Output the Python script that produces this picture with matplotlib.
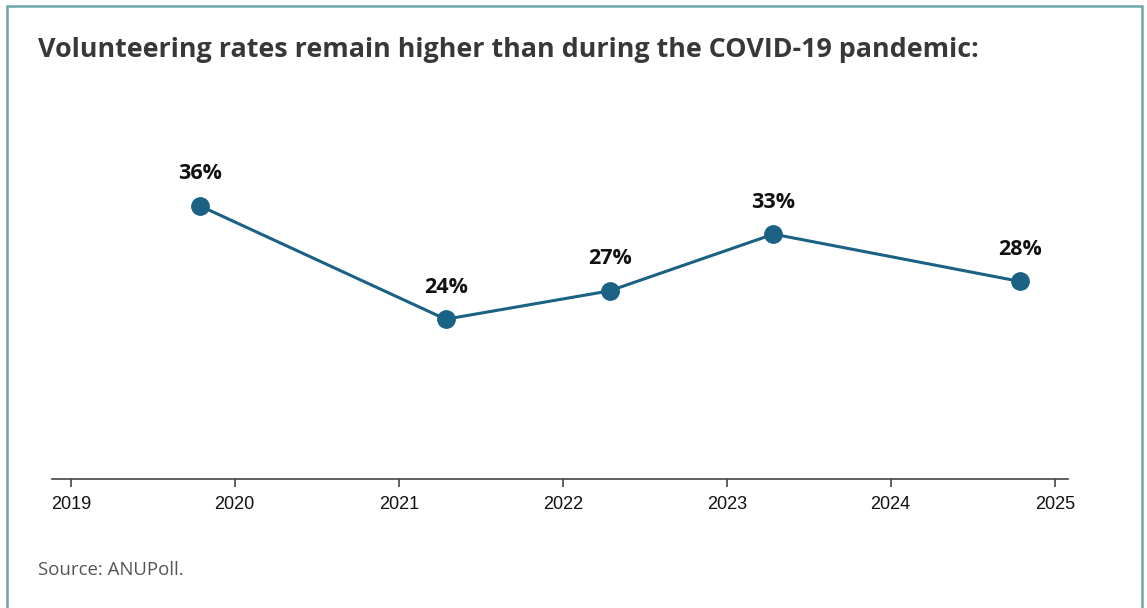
import matplotlib
matplotlib.use("Agg")
import matplotlib.pyplot as plt
import matplotlib.dates as mdates
from matplotlib.patches import Rectangle
from datetime import datetime

# survey waves and share of people who volunteered
waves = [datetime(2019, 10, 15), datetime(2021, 4, 15), datetime(2022, 4, 15),
         datetime(2023, 4, 15), datetime(2024, 10, 15)]
rates = [36, 24, 27, 33, 28]
years = [2019, 2020, 2021, 2022, 2023, 2024, 2025]

line_col = "#1b6183"

fig = plt.figure(figsize=(11.47, 6.08), dpi=100)
ax = fig.add_axes([52 / 1147, 1 - 479 / 608, (1068 - 52) / 1147, (479 - 150) / 608])

ax.plot(waves, rates, color=line_col, lw=2.2, marker="o", ms=12.5, zorder=3)
for d, v in zip(waves, rates):
    ax.annotate(f"{v}%", (d, v), xytext=(0, 23), textcoords="offset points",
                ha="center", va="center", fontsize=15.5, fontweight="bold",
                family="Open Sans", color="#111111")

ax.set_xlim(datetime(2018, 11, 20), datetime(2025, 1, 30))
ax.set_ylim(7.1, 41.9)
ax.set_xticks([datetime(y, 1, 1) for y in years])
ax.xaxis.set_major_formatter(mdates.DateFormatter("%Y"))
ax.tick_params(axis="x", length=6, width=1.2, color="#444444", pad=6,
               labelsize=13, labelcolor="#111111")
for lab in ax.get_xticklabels():
    lab.set_family("Liberation Sans")
ax.set_yticks([])
for s in ["top", "right", "left"]:
    ax.spines[s].set_visible(False)
ax.spines["bottom"].set_color("#444444")
ax.spines["bottom"].set_linewidth(1.2)

fig.text(38 / 1147, 1 - 50 / 608, "Volunteering rates remain higher than during the COVID-19 pandemic:",
         fontsize=19.35, fontweight="bold", family="Open Sans", color="#383838", va="center")
fig.text(38 / 1147, 1 - 570 / 608, "Source: ANUPoll.", fontsize=13.4, family="Open Sans",
         color="#555555", va="center")

# outer frame
fig.patches.append(Rectangle((7 / 1147, -0.05), (1142 - 7) / 1147, 1.05 - 6 / 608,
                             transform=fig.transFigure, fill=False,
                             edgecolor="#6ba7a4", lw=1.8))

fig.savefig("out.png", dpi=100)
